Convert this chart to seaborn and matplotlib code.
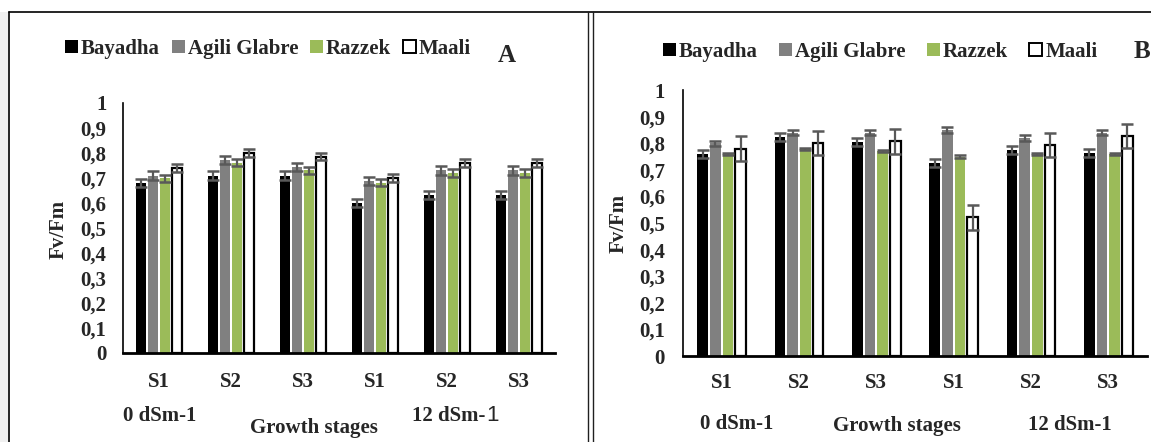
import numpy as np
import pandas as pd
import matplotlib
matplotlib.use("Agg")
import matplotlib.pyplot as plt
import seaborn as sns
from matplotlib.patches import Patch, Rectangle
from matplotlib.lines import Line2D

# ---------------- data ----------------
cultivars = ["Bayadha", "Agili Glabre", "Razzek", "Maali"]
groups = ["0-S1", "0-S2", "0-S3", "12-S1", "12-S2", "12-S3"]
stage_labels = ["S1", "S2", "S3", "S1", "S2", "S3"]
ytick_values = [0, 0.1, 0.2, 0.3, 0.4, 0.5, 0.6, 0.7, 0.8, 0.9, 1.0]
ytick_labels = ["0", "0,1", "0,2", "0,3", "0,4", "0,5", "0,6", "0,7", "0,8", "0,9", "1"]
colors = ["#000000", "#808080", "#9BBB59", "#FFFFFF"]

# Panel A
a_bayadha = [0.68, 0.71, 0.71, 0.60, 0.63, 0.63]
a_agili = [0.71, 0.77, 0.745, 0.69, 0.73, 0.73]
a_razzek = [0.70, 0.76, 0.73, 0.68, 0.72, 0.72]
a_maali = [0.74, 0.80, 0.785, 0.70, 0.76, 0.76]
a_err_bayadha = [0.017, 0.016, 0.016, 0.016, 0.016, 0.016]
a_err_agili = [0.016, 0.016, 0.016, 0.016, 0.016, 0.016]
a_err_razzek = [0.014, 0.014, 0.014, 0.014, 0.014, 0.014]
a_err_maali = [0.015, 0.015, 0.015, 0.015, 0.015, 0.015]

# Panel B
b_bayadha = [0.76, 0.825, 0.805, 0.725, 0.775, 0.765]
b_agili = [0.80, 0.84, 0.84, 0.85, 0.82, 0.84]
b_razzek = [0.76, 0.778, 0.772, 0.75, 0.76, 0.76]
b_maali = [0.78, 0.80, 0.807, 0.522, 0.793, 0.828]
b_err_bayadha = [0.015, 0.015, 0.015, 0.015, 0.015, 0.015]
b_err_agili = [0.01, 0.01, 0.01, 0.01, 0.01, 0.01]
b_err_razzek = [0.004, 0.004, 0.004, 0.004, 0.004, 0.004]
b_err_maali = [0.047, 0.045, 0.046, 0.047, 0.045, 0.045]

W, H = 1151, 442
FONT = "Liberation Serif"

sns.set_style("white")
plt.rcParams["font.family"] = [FONT, "DejaVu Serif"]
plt.rcParams["font.weight"] = "bold"

fig = plt.figure(figsize=(W / 100, H / 100), dpi=100)
fig.patch.set_facecolor("white")


def fx(x):
    return x / W


def fy(y):
    return 1 - y / H


def panel(ax, vals, errs, xpad, ypad):
    rows = []
    for c, v in zip(cultivars, vals):
        for g, val in zip(groups, v):
            rows.append({"group": g, "cultivar": c, "value": val})
    df = pd.DataFrame(rows)
    sns.barplot(data=df, x="group", y="value", hue="cultivar", order=groups,
                hue_order=cultivars, palette=dict(zip(cultivars, colors)),
                saturation=1, width=0.66, gap=0.16, errorbar=None,
                legend=False, ax=ax)
    bar_conts = list(ax.containers)
    for ci, cont in enumerate(bar_conts):
        xs, hs = [], []
        for bar in cont:
            if cultivars[ci] == "Maali":
                bar.set_edgecolor("black")
                bar.set_linewidth(1.6)
            else:
                bar.set_edgecolor("none")
            xs.append(bar.get_x() + bar.get_width() / 2)
            hs.append(bar.get_height())
        ax.errorbar(xs, hs, yerr=errs[ci], fmt="none", ecolor="#595959",
                    elinewidth=1.6, capsize=4, capthick=1.8, zorder=5)
    ax.set_ylim(0, 1)
    ax.set_xlim(-0.5, len(groups) - 0.5)
    ax.set_yticks(ytick_values)
    ax.set_yticklabels(ytick_labels)
    ax.set_xticks(range(len(groups)))
    ax.set_xticklabels(stage_labels)
    ax.tick_params(axis="y", length=0, pad=ypad, labelsize=15)
    ax.tick_params(axis="x", length=0, pad=xpad, labelsize=15)
    for lab in ax.get_xticklabels() + ax.get_yticklabels():
        lab.set_fontweight("bold")
    ax.set_xlabel("")
    ax.set_ylabel("")
    for s in ["top", "right"]:
        ax.spines[s].set_visible(False)
    ax.spines["left"].set_color("black")
    ax.spines["left"].set_linewidth(1.2)
    ax.spines["bottom"].set_color("black")
    ax.spines["bottom"].set_linewidth(2.0)
    ax.set_facecolor("white")
    ax.grid(False)


def legend_for(ax, cx, cy, colspace):
    handles = []
    for c, col in zip(cultivars, colors):
        handles.append(Patch(facecolor=col,
                             edgecolor="black" if col == "#FFFFFF" else col,
                             linewidth=1.4 if col == "#FFFFFF" else 0,
                             label=c))
    ax.legend(handles=handles, ncol=4, loc="center",
              bbox_to_anchor=(fx(cx), fy(cy)), bbox_transform=fig.transFigure,
              frameon=False, handlelength=0.62, handleheight=0.62,
              handletextpad=0.15, columnspacing=colspace,
              prop={"family": FONT, "weight": "bold", "size": 15})


# ----- panel A -----
axA = fig.add_axes([fx(123), fy(353), (555 - 123) / W, (353 - 103) / H])
panel(axA, [a_bayadha, a_agili, a_razzek, a_maali],
      [a_err_bayadha, a_err_agili, a_err_razzek, a_err_maali], 14, 12)
legend_for(axA, 268, 49, 0.57)
fig.text(fx(507), fy(55), "A", ha="center", va="center", fontsize=18,
         fontweight="bold", family=FONT)
fig.text(fx(59), fy(229), "Fv/Fm", rotation=90, ha="center", va="center",
         fontsize=15, fontweight="bold", family=FONT)
fig.text(fx(160), fy(416), "0 dSm-1", ha="center", va="center", fontsize=15,
         fontweight="bold", family=FONT)
fig.text(fx(314), fy(428), "Growth stages", ha="center", va="center",
         fontsize=15, fontweight="bold", family=FONT)
fig.text(fx(485), fy(421), "12 dSm-", ha="right", va="baseline", fontsize=15,
         fontweight="bold", family=FONT)
fig.text(fx(486), fy(421), "1", ha="left", va="baseline", fontsize=16,
         fontweight="normal", family="Liberation Sans")

# ----- panel B -----
axB = fig.add_axes([fx(683), fy(356), (1147 - 683) / W, (356 - 90) / H])
panel(axB, [b_bayadha, b_agili, b_razzek, b_maali],
      [b_err_bayadha, b_err_agili, b_err_razzek, b_err_maali], 12, 13)
legend_for(axB, 880, 52, 1.02)
fig.text(fx(1134), fy(52), "B", ha="left", va="center", fontsize=18,
         fontweight="bold", family=FONT)
fig.text(fx(619), fy(223), "Fv/Fm", rotation=90, ha="center", va="center",
         fontsize=15, fontweight="bold", family=FONT)
fig.text(fx(737), fy(424), "0 dSm-1", ha="center", va="center", fontsize=15,
         fontweight="bold", family=FONT)
fig.text(fx(897), fy(426), "Growth stages", ha="center", va="center",
         fontsize=15, fontweight="bold", family=FONT)
fig.text(fx(1070), fy(425), "12 dSm-1", ha="center", va="center", fontsize=15,
         fontweight="bold", family=FONT)

# ----- frame decorations -----
fig.add_artist(Rectangle((0, 0), fx(8), fy(12), transform=fig.transFigure,
                         facecolor="#F0F0F0", edgecolor="none", zorder=-10))
fig.add_artist(Line2D([fx(9), 1], [fy(12), fy(12)], transform=fig.transFigure,
                      color="black", linewidth=1.2))
fig.add_artist(Line2D([fx(9), fx(9)], [0, fy(12)], transform=fig.transFigure,
                      color="black", linewidth=1.2))
for xx in (588, 593):
    fig.add_artist(Line2D([fx(xx), fx(xx)], [0, fy(12)],
                          transform=fig.transFigure, color="#202020",
                          linewidth=1.0))

fig.savefig("out.png", dpi=100, facecolor="white")
